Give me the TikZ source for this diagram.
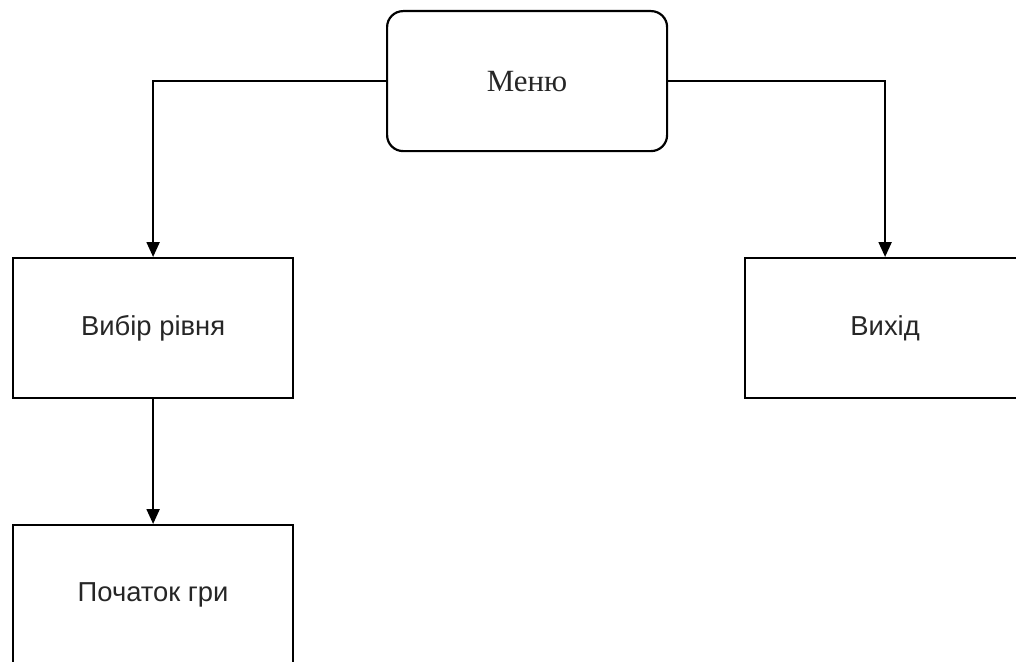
\documentclass[tikz,border=0pt]{standalone}
\usepackage{fontspec}
\setmainfont{Liberation Serif}
\newfontfamily\boxfont{Liberation Sans}
\usetikzlibrary{arrows.meta}
\begin{document}
\begin{tikzpicture}[x=1bp,y=-1bp,
  base/.style={draw=black, line width=2.2bp, minimum width=280bp, minimum height=140bp, inner sep=0pt, anchor=north west, text=black!85},
  menubox/.style={base, rounded corners=16bp, font=\fontsize{31}{36}\selectfont},
  plainbox/.style={base, font=\boxfont\fontsize{27.5}{32}\selectfont},
  conn/.style={line width=2.2bp, -{Triangle[length=15bp,width=13bp]}}]
\useasboundingbox (0,0) rectangle (1016,662);
\clip (0,0) rectangle (1016,662);
\node[menubox] (menu) at (386,10) {Меню};
\node[plainbox] (level) at (12,257) {Вибір рівня};
\node[plainbox] (exit) at (744,257) {Вихід};
\node[plainbox] (start) at (12,524) {Початок гри};
\draw[conn] (menu.west) -| (level.north);
\draw[conn] (menu.east) -| (exit.north);
\draw[conn] (level.south) -- (start.north);
\end{tikzpicture}
\end{document}
